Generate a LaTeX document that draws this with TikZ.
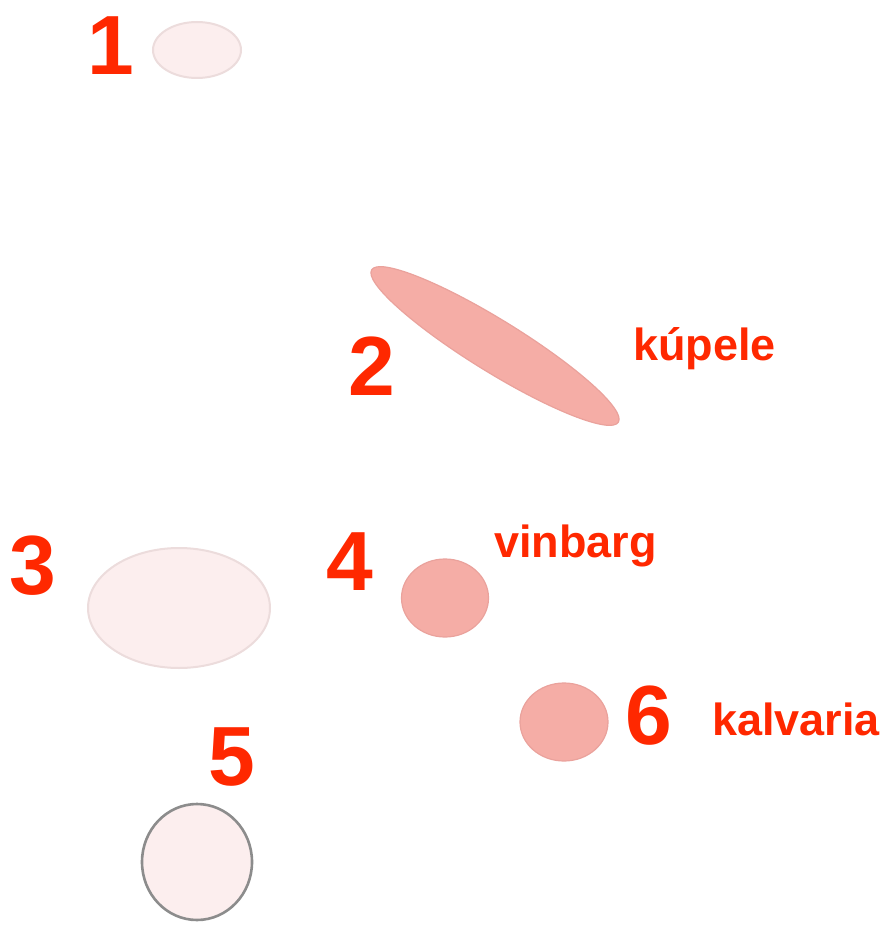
\documentclass[tikz,border=0pt]{standalone}
\usepackage{fontspec}
\setmainfont{Liberation Sans}
\usetikzlibrary{shapes.geometric}
\definecolor{lab}{RGB}{255,40,0}
\definecolor{palefill}{RGB}{252,238,238}
\definecolor{paledraw}{RGB}{236,220,220}
\definecolor{rosefill}{RGB}{245,173,166}
\definecolor{rosedraw}{RGB}{234,162,156}
\definecolor{grayline}{RGB}{140,140,140}
\begin{document}
\begin{tikzpicture}[x=1pt,y=-1pt,
  digit/.style={text=lab,font=\bfseries\fontsize{84}{84}\selectfont,inner sep=0pt,anchor=center},
  word/.style={text=lab,font=\bfseries\fontsize{45}{45}\selectfont,inner sep=0pt,anchor=base west},
  pale/.style={ellipse,fill=palefill,draw=paledraw,line width=2pt,inner sep=0pt},
  rose/.style={ellipse,fill=rosefill,draw=rosedraw,line width=1.2pt,inner sep=0pt},
  outlined/.style={ellipse,fill=palefill,draw=grayline,line width=2.6pt,inner sep=0pt}]
\useasboundingbox (0,0) rectangle (886,925);
% shapes
\node[pale,minimum width=88pt,minimum height=56pt] (s1) at (197,50) {};
\node[rose,minimum width=290pt,minimum height=52pt,rotate=-31.7] (s2) at (495,346) {};
\node[pale,minimum width=182pt,minimum height=120pt] (s3) at (179,608) {};
\node[rose,minimum width=87pt,minimum height=78pt] (s4) at (445,598) {};
\node[outlined,minimum width=110pt,minimum height=116pt] (s5) at (197,862) {};
\node[rose,minimum width=88pt,minimum height=78pt] (s6) at (564,722) {};
% labels
\node[digit] (d1) at (111,45.5) {1};
\node[digit] (d2) at (371.5,366) {2};
\node[digit] (d3) at (32.5,566) {3};
\node[digit] (d4) at (349.5,562) {4};
\node[digit] (d5) at (231.5,757) {5};
\node[digit] (d6) at (649,716) {6};
\node[word] (w2) at (633,360) {kúpele};
\node[word] (w4) at (494,557) {vinbarg};
\node[word] (w6) at (712,735) {kalvaria};
\end{tikzpicture}
\end{document}
